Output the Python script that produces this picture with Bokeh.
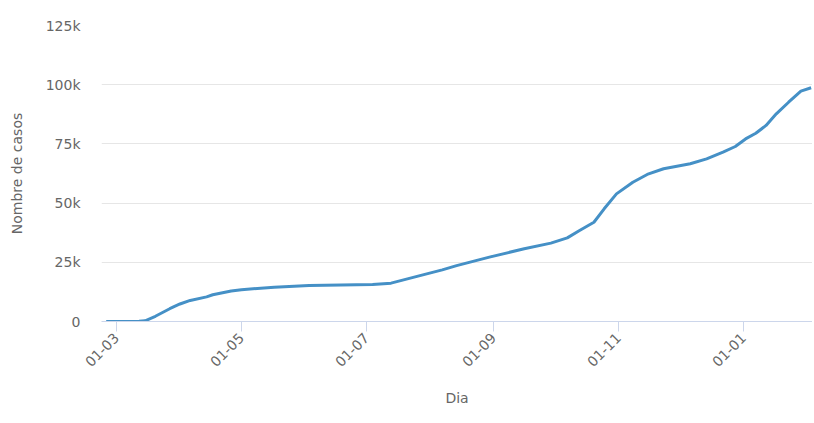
import math
from datetime import datetime
from bokeh.plotting import figure
from bokeh.models import FixedTicker, NumeralTickFormatter, DatetimeTickFormatter, Range1d, ColumnDataSource
from bokeh.embed import file_html
from bokeh.resources import INLINE

dates = ["2020-02-25", "2020-03-05", "2020-03-12", "2020-03-15", "2020-03-20", "2020-03-27",
         "2020-04-01", "2020-04-06", "2020-04-14", "2020-04-17", "2020-04-26", "2020-05-01",
         "2020-05-17", "2020-06-03", "2020-07-04", "2020-07-13", "2020-07-21", "2020-07-29",
         "2020-08-07", "2020-08-14", "2020-08-30", "2020-09-16", "2020-09-29", "2020-10-07",
         "2020-10-13", "2020-10-20", "2020-10-25", "2020-10-31", "2020-11-08", "2020-11-15",
         "2020-11-23", "2020-12-06", "2020-12-14", "2020-12-22", "2020-12-28", "2021-01-02",
         "2021-01-07", "2021-01-12", "2021-01-17", "2021-01-23", "2021-01-29", "2021-02-03"]
cases = [0, 0, 100, 300, 2200, 5400,
         7400, 8900, 10400, 11300, 12900, 13400,
         14500, 15200, 15600, 16200, 18000, 19800,
         21800, 23600, 27200, 30700, 33100, 35300,
         38400, 41900, 47600, 53900, 58800, 62100,
         64500, 66600, 68700, 71500, 73900, 77100,
         79500, 82800, 87700, 92600, 97300, 98700]
y_ticks = [0, 25000, 50000, 75000, 100000, 125000]
x_tick_dates = ["2020-03-01", "2020-05-01", "2020-07-01", "2020-09-01", "2020-11-01", "2021-01-01"]

def ms(s):
    return (datetime.strptime(s, "%Y-%m-%d %H") - datetime(1970, 1, 1)).total_seconds() * 1000

src = ColumnDataSource(dict(x=[datetime.strptime(d, "%Y-%m-%d") for d in dates], y=cases))

p = figure(width=812, height=415, x_axis_type="datetime", output_backend="svg",
           toolbar_location=None, min_border_left=101, min_border_top=25,
           min_border_right=0, min_border_bottom=94)
p.x_range = Range1d(ms("2020-02-22 17"), ms("2021-02-03 16"))
p.y_range = Range1d(0, 125000)
p.outline_line_color = None

p.line("x", "y", source=src, line_width=3, line_color="#4590c6")

font = "DejaVu Sans"
p.yaxis.ticker = FixedTicker(ticks=y_ticks)
p.yaxis.formatter = NumeralTickFormatter(format="0a")
p.yaxis.axis_line_color = None
p.yaxis.major_tick_line_color = None
p.yaxis.minor_tick_line_color = None
p.yaxis.major_label_standoff = 15
p.yaxis.major_label_text_color = "#666666"
p.yaxis.major_label_text_font_size = "14px"
p.yaxis.major_label_text_font = font
p.yaxis.axis_label = "Nombre de casos"
p.yaxis.axis_label_text_font_style = "normal"
p.yaxis.axis_label_text_color = "#666666"
p.yaxis.axis_label_text_font_size = "14px"
p.yaxis.axis_label_text_font = font
p.yaxis.axis_label_standoff = 18

p.xaxis.ticker = FixedTicker(ticks=[ms(d + " 0") for d in x_tick_dates])
fmt = "%d-%m"
p.xaxis.formatter = DatetimeTickFormatter(milliseconds=fmt, seconds=fmt, minsec=fmt, minutes=fmt,
                                          hourmin=fmt, hours=fmt, days=fmt, months=fmt, years=fmt)
p.xaxis.axis_line_color = "#ccd6eb"
p.xaxis.axis_line_width = 1
p.xaxis.major_tick_line_color = "#ccd6eb"
p.xaxis.major_tick_out = 10
p.xaxis.major_tick_in = 0
p.xaxis.minor_tick_line_color = None
p.xaxis.major_label_orientation = math.pi / 4
p.xaxis.major_label_text_color = "#666666"
p.xaxis.major_label_text_font_size = "14px"
p.xaxis.major_label_text_font = font
p.xaxis.major_label_standoff = 4
p.xaxis.axis_label = "Dia"
p.xaxis.axis_label_text_font_style = "normal"
p.xaxis.axis_label_text_color = "#666666"
p.xaxis.axis_label_text_font_size = "14px"
p.xaxis.axis_label_text_font = font
p.xaxis.axis_label_standoff = 16

p.xgrid.grid_line_color = None
p.ygrid.grid_line_color = "#e6e6e6"
p.ygrid.grid_line_width = 1

open("out.html", "w").write(file_html(p, INLINE))
